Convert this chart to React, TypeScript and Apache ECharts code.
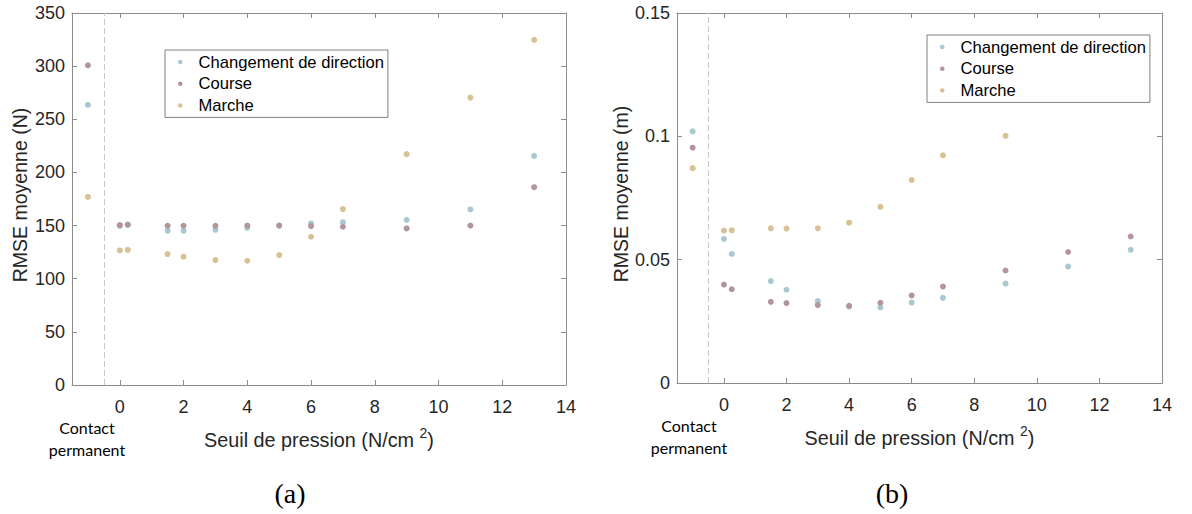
import React, { useEffect, useRef } from "react";
import * as echarts from "echarts";

// Seuil de pression (N/cm²); -1 = "Contact permanent"
const xValues = [-1, 0, 0.25, 1.5, 2, 3, 4, 5, 6, 7, 9, 11, 13];
const xTickValues = [0, 2, 4, 6, 8, 10, 12, 14];
const seriesNames = ["Changement de direction", "Course", "Marche"];
const seriesColors = ["#a8c9d2", "#b4959c", "#d8c194"];

// (a) RMSE moyenne (N)
const changementN = [263.5, 149.8, 150.5, 145.1, 145.1, 146, 147.9, 150, 152, 153.2, 155.4, 165.2, 215.6];
const courseN = [300.8, 150.4, 151, 149.8, 149.8, 149.8, 150, 150, 149.5, 148.9, 147.3, 150, 186.1];
const marcheN = [177, 126.6, 127.2, 123.2, 120.7, 117.5, 116.9, 122.2, 139.5, 165.5, 217.2, 270.4, 324.7];

// (b) RMSE moyenne (m)
const changementM = [0.102, 0.0584, 0.0523, 0.0413, 0.0378, 0.0332, 0.031, 0.0306, 0.0326, 0.0345, 0.0403, 0.0472, 0.054];
const courseM = [0.0954, 0.0399, 0.038, 0.0329, 0.0324, 0.0316, 0.0313, 0.0325, 0.0355, 0.0391, 0.0456, 0.0531, 0.0594];
const marcheM = [0.0871, 0.0618, 0.0619, 0.0627, 0.0626, 0.0627, 0.065, 0.0714, 0.0823, 0.0923, 0.1002];

const FONT = "Liberation Sans";
const AXIS_COLOR = "#8c8c8c";
const TEXT_COLOR = "#262626";

function pairs(ys: number[]) {
  return ys.map((y, i) => [xValues[i], y]);
}

function xAxisPair(gridIndex: number) {
  const common = {
    type: "value",
    gridIndex,
    min: -1.5,
    max: 14,
    splitLine: { show: false },
    axisLine: { show: true, onZero: false, lineStyle: { color: AXIS_COLOR, width: 1 } },
  };
  return [
    {
      ...common,
      position: "bottom",
      axisTick: { show: true, inside: true, length: 5, customValues: xTickValues, lineStyle: { color: AXIS_COLOR } },
      axisLabel: { show: true, customValues: xTickValues, color: TEXT_COLOR, fontSize: 18, fontFamily: FONT, margin: 13 },
      name: "Seuil de pression (N/cm {sup|2})",
      nameLocation: "middle",
      nameGap: 41,
      nameTextStyle: {
        color: TEXT_COLOR,
        fontSize: 19.8,
        fontFamily: FONT,
        rich: { sup: { fontSize: 14, fontFamily: FONT, color: TEXT_COLOR, padding: [0, 0, 14, 0] } },
      },
    },
    {
      ...common,
      position: "top",
      axisTick: { show: true, inside: true, length: 5, customValues: xTickValues, lineStyle: { color: AXIS_COLOR } },
      axisLabel: { show: false },
    },
  ];
}

function yAxisPair(gridIndex: number, max: number, interval: number, name: string, nameGap: number) {
  const common = {
    type: "value",
    gridIndex,
    min: 0,
    max,
    interval,
    splitLine: { show: false },
    axisLine: { show: true, onZero: false, lineStyle: { color: AXIS_COLOR, width: 1 } },
    axisTick: { show: true, inside: true, length: 5, lineStyle: { color: AXIS_COLOR } },
  };
  return [
    {
      ...common,
      position: "left",
      axisLabel: { color: TEXT_COLOR, fontSize: 18, fontFamily: FONT, margin: 7 },
      name,
      nameLocation: "middle",
      nameGap,
      nameTextStyle: { color: TEXT_COLOR, fontSize: 19.5, fontFamily: FONT, padding: [0, 0, 0, 8] },
    },
    { ...common, position: "right", axisLabel: { show: false } },
  ];
}

function scatter(name: string, color: string, xi: number, yi: number, data: number[][], withLine: boolean) {
  const s: any = {
    type: "scatter",
    name,
    xAxisIndex: xi,
    yAxisIndex: yi,
    data,
    symbolSize: 6,
    itemStyle: { color, opacity: 1 },
    emphasis: { disabled: true },
  };
  if (withLine) {
    s.markLine = {
      silent: true,
      symbol: ["none", "none"],
      label: { show: false },
      lineStyle: { type: [6, 3], color: "#c8c8c8", width: 1 },
      data: [{ xAxis: -0.5 }],
    };
  }
  return s;
}

function legendAt(left: number, top: number) {
  return {
    data: seriesNames,
    orient: "vertical",
    left,
    top,
    icon: "circle",
    itemWidth: 4.5,
    itemHeight: 4.5,
    itemGap: 1.7,
    padding: [2, 4, 2, 13],
    borderColor: "#808080",
    borderWidth: 1,
    backgroundColor: "#ffffff",
    selectedMode: false,
    textStyle: { color: "#000", fontSize: 16.6, fontFamily: FONT, lineHeight: 20, padding: [0, 0, 0, 11] },
  };
}

export default function App() {
  const ref = useRef<HTMLDivElement>(null);

  useEffect(() => {
    if (!ref.current) return;
    const chart = echarts.init(ref.current, undefined, { renderer: "svg" });
    const option: any = {
      animation: false,
      backgroundColor: "#ffffff",
      textStyle: { fontFamily: FONT },
      grid: [
        { left: 72, top: 13, width: 494, height: 372 },
        { left: 677, top: 13, width: 485, height: 370 },
      ],
      xAxis: [...xAxisPair(0), ...xAxisPair(1)],
      yAxis: [
        ...yAxisPair(0, 350, 50, "RMSE moyenne (N)", 42),
        ...yAxisPair(1, 0.15, 0.05, "RMSE moyenne (m)", 46),
      ],
      legend: [legendAt(165, 50), legendAt(927, 35)],
      series: [
        scatter(seriesNames[0], seriesColors[0], 0, 0, pairs(changementN), true),
        scatter(seriesNames[1], seriesColors[1], 0, 0, pairs(courseN), false),
        scatter(seriesNames[2], seriesColors[2], 0, 0, pairs(marcheN), false),
        scatter(seriesNames[0], seriesColors[0], 2, 2, pairs(changementM), true),
        scatter(seriesNames[1], seriesColors[1], 2, 2, pairs(courseM), false),
        scatter(seriesNames[2], seriesColors[2], 2, 2, pairs(marcheM), false),
      ],
      graphic: [
        {
          type: "text",
          x: 87,
          y: 438,
          style: {
            text: "Contact\npermanent",
            font: "16px Lato",
            fill: "#000",
            align: "center",
            verticalAlign: "middle",
            lineHeight: 22,
          },
        },
        {
          type: "text",
          x: 689,
          y: 436,
          style: {
            text: "Contact\npermanent",
            font: "16px Lato",
            fill: "#000",
            align: "center",
            verticalAlign: "middle",
            lineHeight: 22,
          },
        },
        {
          type: "text",
          x: 290,
          y: 493,
          style: { text: "(a)", font: "28px 'Liberation Serif'", fill: "#000", align: "center", verticalAlign: "middle" },
        },
        {
          type: "text",
          x: 892,
          y: 493,
          style: { text: "(b)", font: "28px 'Liberation Serif'", fill: "#000", align: "center", verticalAlign: "middle" },
        },
      ],
    };
    chart.setOption(option);
    return () => chart.dispose();
  }, []);

  return (
    <div
      ref={ref}
      style={{ position: "absolute", left: 0, top: 0, width: 1192, height: 514, background: "#fff" }}
    />
  );
}
